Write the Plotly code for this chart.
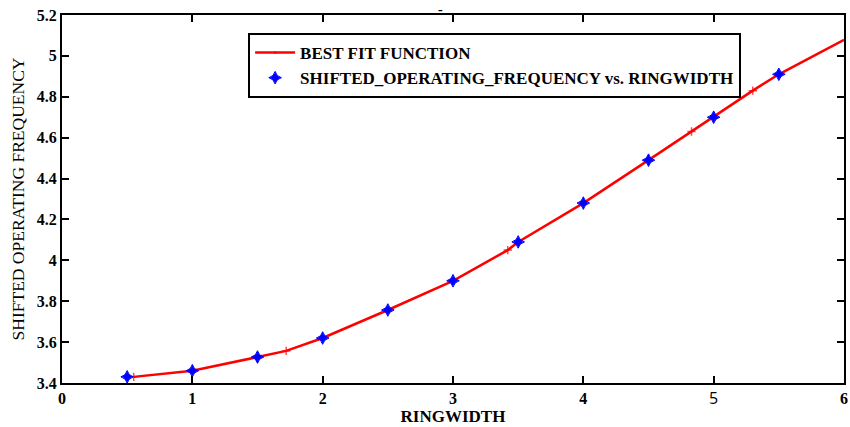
import plotly.graph_objects as go

# Measured data: shifted operating frequency against ring width
ringwidth = [0.5, 1.0, 1.5, 2.0, 2.5, 3.0, 3.5, 4.0, 4.5, 5.0, 5.5]
frequency = [3.43, 3.46, 3.527, 3.62, 3.757, 3.90, 4.09, 4.28, 4.49, 4.70, 4.91]

# Best-fit curve samples (markers shown only at the flagged samples)
fit_x = [0.55, 1.0, 1.5, 1.72, 2.0, 2.5, 3.0, 3.42, 3.5, 4.0, 4.5, 4.83, 5.0, 5.3, 5.5, 6.0]
fit_y = [3.43, 3.46, 3.527, 3.557, 3.62, 3.757, 3.90, 4.05, 4.09, 4.28, 4.49, 4.63, 4.70, 4.83, 4.91, 5.078]
fit_marked = [1, 0, 0, 1, 0, 0, 0, 1, 0, 0, 0, 1, 0, 1, 0, 0]

x_ticks = [0, 1, 2, 3, 4, 5, 6]
x_ticktext = ["<b>0</b>", "<b>1</b>", "<b>2</b>", "<b>3</b>", "<b>4</b>",
              '<span style="font-family:Open Sans;">5</span>', "<b>6</b>"]
y_ticks = [3.4, 3.6, 3.8, 4.0, 4.2, 4.4, 4.6, 4.8, 5.0, 5.2]
y_ticktext = ["3.4", "3.6", "3.8", "4", "4.2", "4.4", "4.6", "4.8", "5", "5.2"]

SERIF = "Liberation Serif"

fig = go.Figure()

fig.add_trace(go.Scatter(
    x=fit_x, y=fit_y,
    mode="lines+markers",
    name="<b>BEST FIT FUNCTION</b>",
    line=dict(color="#ff0000", width=2.5),
    marker=dict(symbol="cross-thin", size=[6 if m else 0 for m in fit_marked],
                color="#ff0000", line=dict(color="#ff0000", width=1.5)),
))

fig.add_trace(go.Scatter(
    x=ringwidth, y=frequency,
    mode="markers",
    name="<b>SHIFTED_OPERATING_FREQUENCY vs. RINGWIDTH</b>",
    marker=dict(symbol="star-diamond", size=9, color="#0000ff",
                line=dict(color="#0000ff", width=1)),
))

axis_common = dict(
    showline=True, linecolor="black", linewidth=2, mirror="allticks",
    ticks="inside", ticklen=7, tickwidth=2, tickcolor="black",
    showgrid=False, zeroline=False,
)

fig.update_layout(
    width=850, height=427,
    margin=dict(l=62, r=2, t=15, b=44),
    paper_bgcolor="white", plot_bgcolor="white",
    font=dict(family=SERIF, color="black", size=15),
    xaxis=dict(
        range=[0, 6], tickmode="array", tickvals=x_ticks, ticktext=x_ticktext,
        tickfont=dict(family=SERIF, size=16, color="black"),
        title=dict(text="<b>RINGWIDTH</b>", font=dict(family=SERIF, size=17), standoff=2),
        **axis_common,
    ),
    yaxis=dict(
        range=[3.4, 5.2], tickmode="array", tickvals=y_ticks,
        ticktext=["<b>%s</b>" % t for t in y_ticktext],
        tickfont=dict(family=SERIF, size=16, color="black"),
        title=dict(text="SHIFTED OPERATING FREQUENCY", font=dict(family=SERIF, size=17.5), standoff=8),
        **axis_common,
    ),
    legend=dict(
        x=0.238, y=0.951, xanchor="left", yanchor="top",
        bgcolor="white", bordercolor="black", borderwidth=2,
        font=dict(family=SERIF, size=17, color="black"),
        tracegroupgap=0, itemwidth=40,
    ),
    showlegend=True,
    annotations=[dict(
        text="<b>-</b>", x=0.484, y=1.0, xref="paper", yref="paper",
        xanchor="center", yanchor="top", yshift=15, showarrow=False,
        font=dict(family=SERIF, size=14, color="black"),
    )],
)

fig.write_html("out.html")
